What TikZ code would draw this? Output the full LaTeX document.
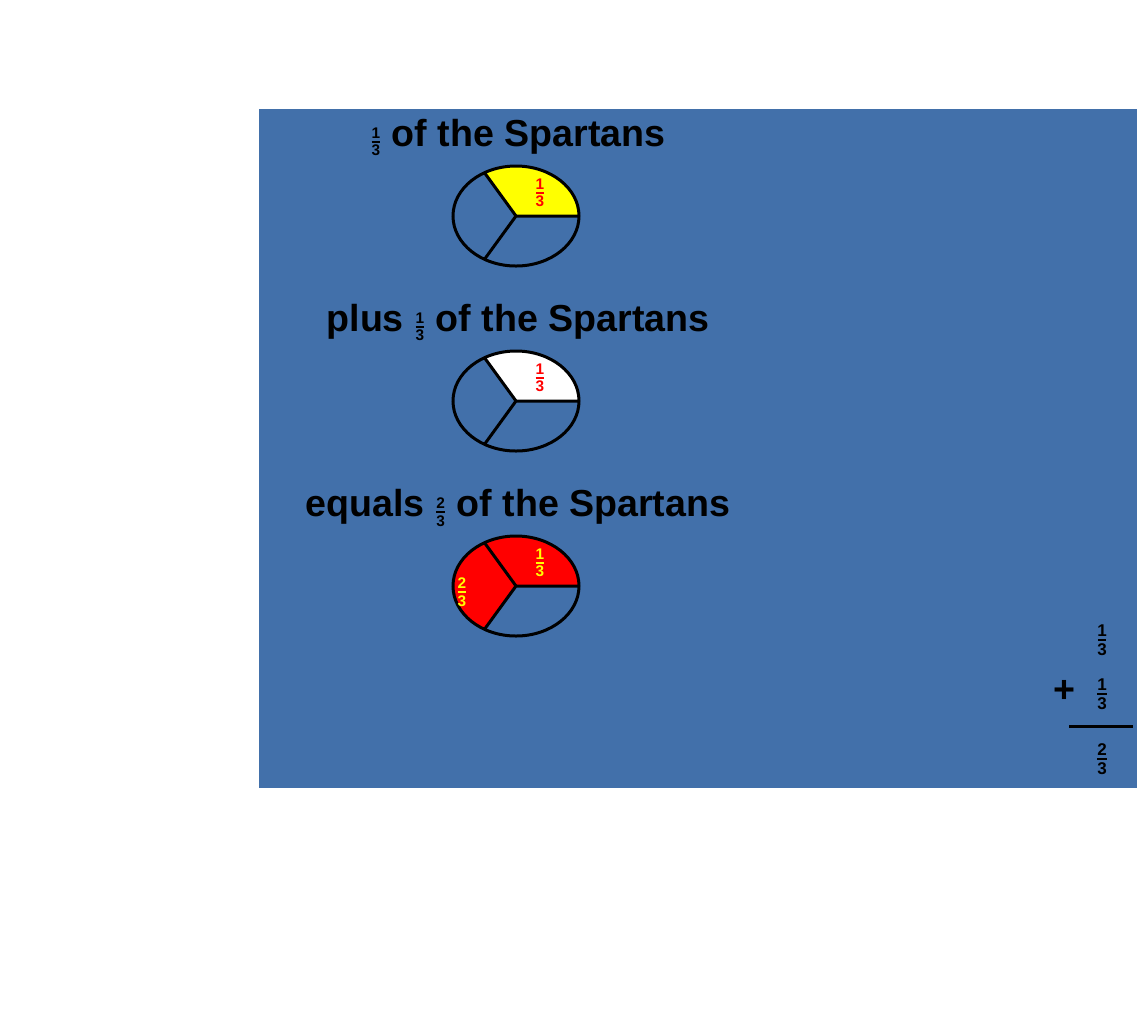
\documentclass[tikz,border=0pt]{standalone}
\usepackage{fontspec}
\setmainfont{Liberation Sans}
\usetikzlibrary{positioning}
\definecolor{slideblue}{HTML}{4270AA}
\definecolor{pieyellow}{HTML}{FFFF00}
\definecolor{piered}{HTML}{FF0000}
\newcommand{\smallfrac}[3][7.7]{{\fontsize{#1}{#1}\selectfont
  \setbox0\hbox{#2}\setbox2\hbox{#3}%
  \dimen0=\ifdim\wd0>\wd2 \wd0\else\wd2\fi
  \kern0.6pt$\vcenter{\offinterlineskip\hbox to\dimen0{\hss\box0\hss}\kern1.3pt
    \hrule height0.75pt width\dimen0\kern1.3pt\hbox to\dimen0{\hss\box2\hss}}$\kern0.6pt}}
\tikzset{every node/.append style={font=\bfseries}}

\begin{document}
\begin{tikzpicture}[x=0.5pt,y=-0.5pt,
  title/.style={anchor=base,inner sep=0pt,font=\bfseries\fontsize{18.8}{20}\selectfont},
  piece/.style={inner sep=0pt},
  pie/.style={line width=1.5pt}]
  \useasboundingbox (0,0) rectangle (1137,1025);
  \fill[slideblue] (259,109) rectangle (1137,788);
  % first pie
  \coordinate (c1) at (516,216);
  \fill[pieyellow] (c1) -- ++(0:63 and 50) arc[start angle=0,end angle=-120,x radius=63,y radius=50] -- cycle;
  \draw[pie] (c1) ellipse[x radius=63,y radius=50];
  \draw[pie] (c1) -- ++(0:63 and 50) (c1) -- ++(-120:63 and 50) (c1) -- ++(120:63 and 50);
  \node[piece,piered] (f1) at (540,193) {\smallfrac{1}{3}};
  \node[title] (t1) at (518,146) {\smallfrac{1}{3} of the Spartans};
  % second pie
  \coordinate (c2) at (516,401);
  \fill[white] (c2) -- ++(0:63 and 50) arc[start angle=0,end angle=-120,x radius=63,y radius=50] -- cycle;
  \draw[pie] (c2) ellipse[x radius=63,y radius=50];
  \draw[pie] (c2) -- ++(0:63 and 50) (c2) -- ++(-120:63 and 50) (c2) -- ++(120:63 and 50);
  \node[piece,piered] (f2) at (540,378) {\smallfrac{1}{3}};
  \node[title] (t2) at (518,331) {plus \smallfrac{1}{3} of the Spartans};
  % third pie
  \coordinate (c3) at (516,586);
  \fill[piered] (c3) -- ++(0:63 and 50) arc[start angle=0,end angle=-240,x radius=63,y radius=50] -- cycle;
  \draw[pie] (c3) ellipse[x radius=63,y radius=50];
  \draw[pie] (c3) -- ++(0:63 and 50) (c3) -- ++(-120:63 and 50) (c3) -- ++(120:63 and 50);
  \node[piece,pieyellow] (f3) at (540,563) {\smallfrac{1}{3}};
  \node[piece,pieyellow] (f4) at (462,592) {\smallfrac{2}{3}};
  \node[title] (t3) at (518,516) {equals \smallfrac{2}{3} of the Spartans};
  % sum
  \node[piece] (s1) at (1102,640) {\smallfrac[8.5]{1}{3}};
  \node[piece] (s2) at (1102,694) {\smallfrac[8.5]{1}{3}};
  \node[piece,font=\bfseries\fontsize{18.8}{20}\selectfont] (plus) at (1064,691) {+};
  \coordinate (l1) at (1069,726);
  \coordinate (l2) at (1133,726);
  \draw[line width=1.5pt] (l1) -- (l2);
  \node[piece] (s3) at (1102,759) {\smallfrac[8.5]{2}{3}};
\end{tikzpicture}
\end{document}
